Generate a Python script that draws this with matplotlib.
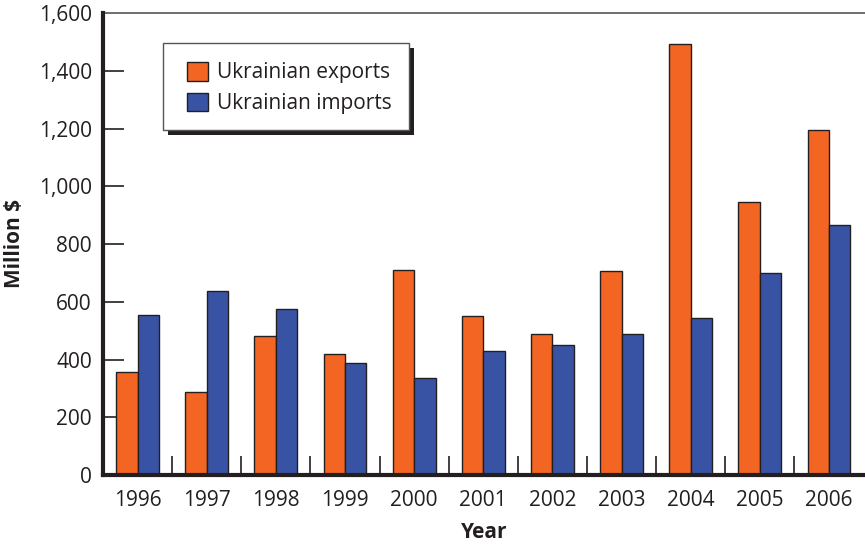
import numpy as np
import matplotlib.pyplot as plt
from matplotlib import rc
from matplotlib.patches import Rectangle

rc("font", **{"family": ["Open Sans", "DejaVu Sans"]})
rc("font", size=15)

years = ["1996", "1997", "1998", "1999", "2000", "2001",
         "2002", "2003", "2004", "2005", "2006"]
exports = [357, 287, 481, 420, 709, 552, 489, 706, 1493, 945, 1195]
imports = [554, 637, 575, 388, 336, 431, 449, 488, 545, 700, 866]

orange = "#F26522"
blue = "#3953A4"
ink = "#231F20"

W, H = 865, 546
fig = plt.figure(figsize=(W / 100, H / 100), dpi=100)
ax = fig.add_axes([103 / W, 1 - 475 / H, 1 - 103 / W, (475 - 13) / H])

x = np.arange(len(years))
w = 0.31
ax.bar(x - w / 2, exports, w, color=orange, edgecolor=ink, linewidth=1.0,
       label="Ukrainian exports", zorder=3)
ax.bar(x + w / 2, imports, w, color=blue, edgecolor=ink, linewidth=1.0,
       label="Ukrainian imports", zorder=3)

ax.set_xlim(-0.5, len(years) - 0.48)
ax.set_ylim(0, 1600)

# thick left/bottom axis, thin gray top line, no right side
ax.spines["left"].set_linewidth(3)
ax.spines["bottom"].set_linewidth(3)
ax.spines["left"].set_color(ink)
ax.spines["bottom"].set_color(ink)
ax.spines["top"].set_linewidth(1.2)
ax.spines["top"].set_color("#555555")
ax.spines["right"].set_visible(False)
ax.spines["left"].set_zorder(4)
ax.spines["bottom"].set_zorder(4)

ax.set_yticks(np.arange(0, 1601, 200))
ax.set_yticklabels([f"{v:,}" for v in range(0, 1601, 200)])
ax.tick_params(axis="y", direction="in", length=15, width=1.2, color=ink,
               pad=8, labelcolor=ink)
# no tick marks at 0 and 1600
ylines = ax.yaxis.get_ticklines()
for t in list(ylines[0:2]) + list(ylines[-2:]):
    t.set_visible(False)

ax.set_xticks(x)
ax.set_xticklabels(years)
ax.tick_params(axis="x", which="major", length=0, pad=11, labelcolor=ink)
ax.set_xticks(np.arange(0.5, len(years) - 1, 1.0), minor=True)
ax.tick_params(axis="x", which="minor", direction="in", length=14,
               width=1.2, color=ink)

ax.set_ylabel("Million $", fontweight="bold", fontsize=15, labelpad=10, color=ink)
ax.set_xlabel("Year", fontweight="bold", fontsize=15, labelpad=8, color=ink)

# legend box with hard drop shadow, drawn in figure pixels
bx0, by0, bx1, by1 = 163, 43, 409, 130
sh = 4.5
fig.patches.append(Rectangle(((bx0 + sh) / W, 1 - (by1 + sh) / H),
                             (bx1 - bx0) / W, (by1 - by0) / H,
                             transform=fig.transFigure, facecolor=ink,
                             edgecolor="none", zorder=5))
fig.patches.append(Rectangle((bx0 / W, 1 - by1 / H),
                             (bx1 - bx0) / W, (by1 - by0) / H,
                             transform=fig.transFigure, facecolor="white",
                             edgecolor="#555555", linewidth=1.0, zorder=6))

leg = fig.legend(loc="upper left", bbox_to_anchor=(187 / W, 1 - 62 / H),
                 bbox_transform=fig.transFigure, frameon=False,
                 borderpad=0, borderaxespad=0, handlelength=1.0,
                 handleheight=1.0, handletextpad=0.45, labelspacing=0.45)
leg.set_zorder(7)
for txt in leg.get_texts():
    txt.set_color(ink)
for h in leg.legend_handles:
    h.set_edgecolor(ink)
    h.set_linewidth(1.0)

fig.savefig("out.png", dpi=100)
